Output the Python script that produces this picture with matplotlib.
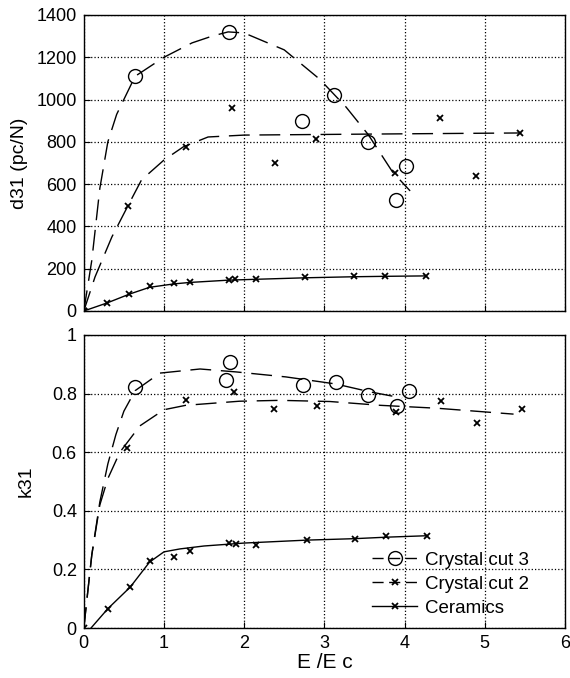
import numpy as np
import matplotlib
matplotlib.use("Agg")
import matplotlib.pyplot as plt
from matplotlib.lines import Line2D
from matplotlib.legend_handler import HandlerLine2D

plt.rcParams['font.family'] = ['Liberation Sans', 'DejaVu Sans']

# ---- d31 (top panel) ----
# measured points
cut3_d_x = [0.64, 1.81, 2.72, 3.12, 3.54, 4.02, 3.90]
cut3_d_y = [1110, 1320, 900, 1020, 800, 686, 525]
cut2_d_x = [0, 0.55, 1.27, 1.85, 2.38, 2.90, 3.88, 4.44, 4.89, 5.44]
cut2_d_y = [0, 497, 776, 960, 700, 814, 653, 913, 639, 842]
cer_d_x = [0, 0.29, 0.57, 0.82, 1.12, 1.32, 1.81, 1.89, 2.15, 2.76, 3.37, 3.76, 4.27]
cer_d_y = [0, 38, 80, 118, 132, 137, 147, 151, 151, 161, 166, 166, 166]
# fitted curves
cut3_d_fx = [0, 0.10, 0.20, 0.30, 0.41, 0.64, 1.0, 1.35, 1.6, 1.8, 2.0, 2.5, 2.94, 3.27, 3.55, 3.85, 4.07]
cut3_d_fy = [0, 240, 580, 800, 930, 1110, 1200, 1268, 1300, 1320, 1315, 1235, 1097, 965, 833, 658, 568]
cut2_d_fx = [0, 0.14, 0.35, 0.55, 0.72, 1.0, 1.24, 1.55, 2.0, 3.0, 4.0, 5.44]
cut2_d_fy = [0, 161, 350, 497, 620, 714, 776, 823, 832, 835, 838, 842]
cer_d_fx = [0, 0.29, 0.57, 0.82, 1.12, 1.32, 1.81, 2.15, 2.76, 3.37, 3.76, 4.27]
cer_d_fy = [0, 38, 80, 112, 128, 135, 146, 150, 157, 162, 164, 166]

# ---- k31 (bottom panel) ----
cut3_k_x = [0.64, 1.82, 1.77, 2.74, 3.14, 3.55, 4.05, 3.91]
cut3_k_y = [0.823, 0.908, 0.846, 0.829, 0.838, 0.795, 0.808, 0.757]
cut2_k_x = [0.54, 1.28, 1.87, 2.37, 2.91, 3.89, 4.45, 4.91, 5.46]
cut2_k_y = [0.613, 0.778, 0.806, 0.747, 0.757, 0.738, 0.774, 0.699, 0.747]
cer_k_x = [0, 0.30, 0.58, 0.82, 1.12, 1.32, 1.81, 1.90, 2.15, 2.78, 3.38, 3.77, 4.28]
cer_k_y = [0, 0.066, 0.140, 0.230, 0.243, 0.264, 0.291, 0.288, 0.284, 0.301, 0.304, 0.315, 0.315]
cut3_k_fx = [0, 0.10, 0.20, 0.30, 0.40, 0.50, 0.64, 0.95, 1.45, 1.9, 2.52, 3.14, 3.57, 3.97]
cut3_k_fy = [0, 0.25, 0.43, 0.56, 0.66, 0.74, 0.81, 0.87, 0.884, 0.874, 0.857, 0.833, 0.806, 0.785]
cut2_k_fx = [0, 0.10, 0.20, 0.30, 0.45, 0.70, 1.0, 1.27, 1.94, 2.45, 3.07, 3.7, 4.41, 5.36]
cut2_k_fy = [0, 0.25, 0.42, 0.51, 0.60, 0.69, 0.745, 0.76, 0.774, 0.777, 0.773, 0.76, 0.75, 0.73]
cer_k_fx = [0.09, 0.30, 0.58, 0.82, 1.0, 1.2, 1.5, 2.0, 2.78, 3.38, 3.77, 4.28]
cer_k_fy = [0, 0.066, 0.14, 0.225, 0.26, 0.27, 0.28, 0.29, 0.30, 0.305, 0.31, 0.315]

labels = ['Crystal cut 3', 'Crystal cut 2', 'Ceramics']
DASH = (15, 7)


class EndMarker(HandlerLine2D):
    # marker sits at the right end of the legend line, matlab style
    def get_xdata(self, legend, xdescent, ydescent, width, height, fontsize):
        xdata = np.array([-xdescent, -xdescent + width])
        return xdata, xdata[-1:]


def style_axes(ax):
    ax.grid(True, color='black', linestyle=':', linewidth=0.9)
    ax.tick_params(direction='in', length=4, labelsize=13, pad=5)
    for s in ax.spines.values():
        s.set_linewidth(1.0)
    ax.set_xlim(0, 6)
    ax.set_xticks(range(0, 7))


fig = plt.figure(figsize=(5.70, 6.78), dpi=100)
ax1 = fig.add_axes([0.147, 0.5413, 0.844, 0.4366])
ax2 = fig.add_axes([0.147, 0.0737, 0.844, 0.4322])

# top
ax1.plot(cut3_d_fx, cut3_d_fy, color='black', lw=1.0, dashes=DASH)
ax1.plot(cut2_d_fx, cut2_d_fy, color='black', lw=1.0, dashes=DASH)
ax1.plot(cer_d_fx, cer_d_fy, color='black', lw=1.0)
ax1.plot(cut3_d_x, cut3_d_y, 'o', mfc='none', mec='black', ms=10, mew=1.0)
ax1.plot(cut2_d_x, cut2_d_y, 'x', color='black', ms=5, mew=1.3)
ax1.plot(cer_d_x, cer_d_y, 'x', color='black', ms=5, mew=1.3)
style_axes(ax1)
ax1.set_ylim(0, 1400)
ax1.set_yticks(range(0, 1401, 200))
ax1.set_xticklabels([])
ax1.set_ylabel('d31 (pc/N)', fontsize=14, labelpad=6)

# bottom
ax2.plot(cut3_k_fx, cut3_k_fy, color='black', lw=1.0, dashes=DASH)
ax2.plot(cut2_k_fx, cut2_k_fy, color='black', lw=1.0, dashes=DASH)
ax2.plot(cer_k_fx, cer_k_fy, color='black', lw=1.0)
ax2.plot(cut3_k_x, cut3_k_y, 'o', mfc='none', mec='black', ms=10, mew=1.0)
ax2.plot(cut2_k_x, cut2_k_y, 'x', color='black', ms=5, mew=1.3)
ax2.plot(cer_k_x, cer_k_y, 'x', color='black', ms=5, mew=1.3)
style_axes(ax2)
ax2.set_ylim(0, 1)
ax2.set_yticks([0, 0.2, 0.4, 0.6, 0.8, 1])
ax2.set_yticklabels(['0', '0.2', '0.4', '0.6', '0.8', '1'])
ax2.set_ylabel('k31', fontsize=14, labelpad=12)
ax2.set_xlabel('E /E c', fontsize=15, labelpad=1)

handles = [
    Line2D([], [], color='black', lw=1.0, dashes=(8, 4), marker='o', mfc='none', mec='black', ms=10),
    Line2D([], [], color='black', lw=1.0, dashes=(8, 4), marker='x', ms=5, mew=1.3),
    Line2D([], [], color='black', lw=1.0, marker='x', ms=5, mew=1.3),
]
ax2.legend(handles, labels, loc='lower right', bbox_to_anchor=(0.96, -0.02),
           frameon=False, fontsize=13.5, handlelength=2.4, handletextpad=0.4,
           labelspacing=0.38, handler_map={h: EndMarker() for h in handles})

fig.savefig('out.png', dpi=100)
